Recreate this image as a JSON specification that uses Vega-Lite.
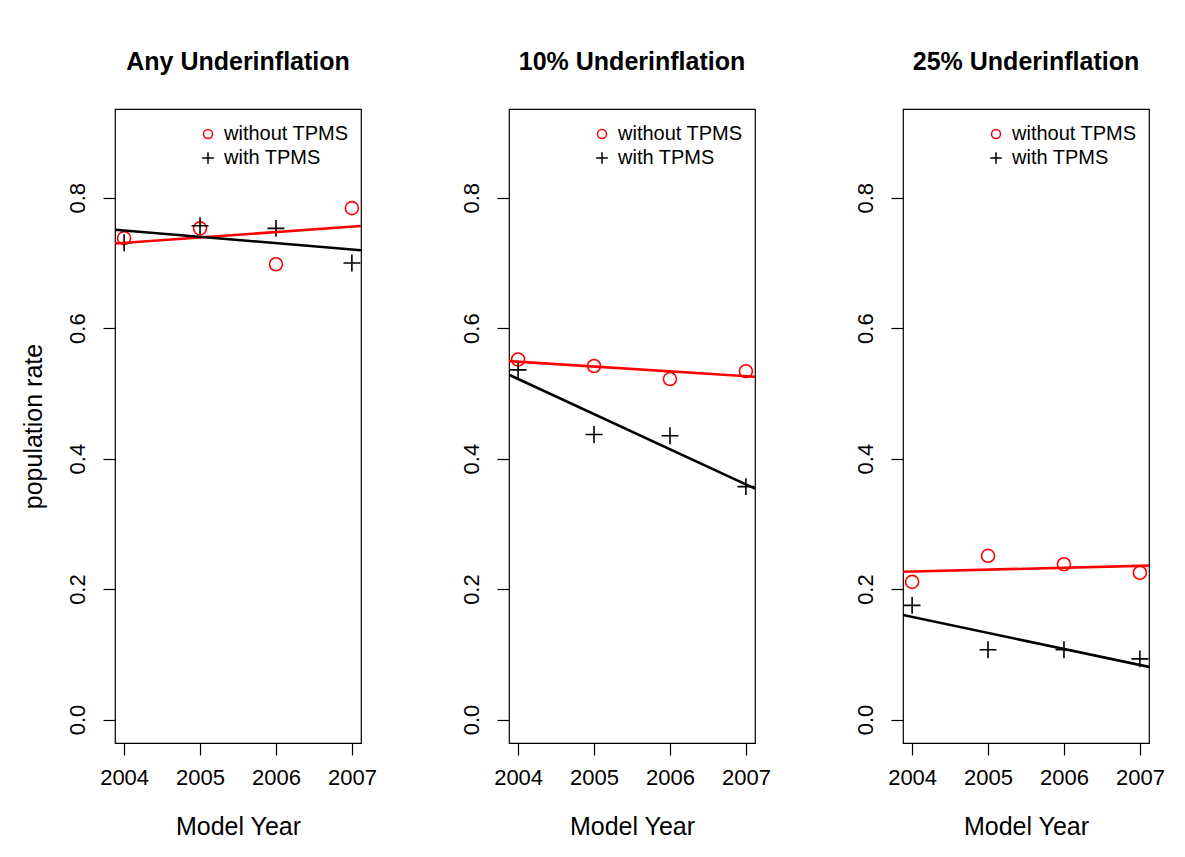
{
  "$schema": "https://vega.github.io/schema/vega-lite/v6.json",
  "background": "white",
  "padding": {"left": 20, "top": 49, "right": 10, "bottom": 10},
  "bounds": "flush",
  "spacing": 148,
  "datasets": {
    "pts": [
      {"panel": "Any", "year": 2004, "group": "without TPMS", "rate": 0.738},
      {"panel": "Any", "year": 2005, "group": "without TPMS", "rate": 0.753},
      {"panel": "Any", "year": 2006, "group": "without TPMS", "rate": 0.698},
      {"panel": "Any", "year": 2007, "group": "without TPMS", "rate": 0.784},
      {"panel": "Any", "year": 2004, "group": "with TPMS", "rate": 0.731},
      {"panel": "Any", "year": 2005, "group": "with TPMS", "rate": 0.757},
      {"panel": "Any", "year": 2006, "group": "with TPMS", "rate": 0.753},
      {"panel": "Any", "year": 2007, "group": "with TPMS", "rate": 0.700},
      {"panel": "10", "year": 2004, "group": "without TPMS", "rate": 0.552},
      {"panel": "10", "year": 2005, "group": "without TPMS", "rate": 0.542},
      {"panel": "10", "year": 2006, "group": "without TPMS", "rate": 0.522},
      {"panel": "10", "year": 2007, "group": "without TPMS", "rate": 0.534},
      {"panel": "10", "year": 2004, "group": "with TPMS", "rate": 0.536},
      {"panel": "10", "year": 2005, "group": "with TPMS", "rate": 0.437},
      {"panel": "10", "year": 2006, "group": "with TPMS", "rate": 0.435},
      {"panel": "10", "year": 2007, "group": "with TPMS", "rate": 0.357},
      {"panel": "25", "year": 2004, "group": "without TPMS", "rate": 0.211},
      {"panel": "25", "year": 2005, "group": "without TPMS", "rate": 0.251},
      {"panel": "25", "year": 2006, "group": "without TPMS", "rate": 0.238},
      {"panel": "25", "year": 2007, "group": "without TPMS", "rate": 0.225},
      {"panel": "25", "year": 2004, "group": "with TPMS", "rate": 0.175},
      {"panel": "25", "year": 2005, "group": "with TPMS", "rate": 0.107},
      {"panel": "25", "year": 2006, "group": "with TPMS", "rate": 0.107},
      {"panel": "25", "year": 2007, "group": "with TPMS", "rate": 0.093}
    ]
  },
  "data": {"name": "pts"},
  "config": {
    "font": "Liberation Sans",
    "view": {"stroke": "black", "strokeWidth": 1.2},
    "axis": {
      "grid": false, "domain": false,
      "tickColor": "black", "tickWidth": 1.2, "tickSize": 12,
      "labelColor": "black", "titleColor": "black",
      "labelFontSize": 22, "titleFontSize": 25, "titleFontWeight": "normal",
      "labelFont": "Liberation Sans", "titleFont": "Liberation Sans",
      "labelFlush": false, "labelOverlap": false
    },
    "title": {"fontSize": 25, "fontWeight": "bold", "font": "Liberation Sans", "color": "black", "offset": 34},
    "legend": {
      "orient": "none", "legendX": 83, "legendY": 15, "padding": 0,
      "labelFontSize": 20, "labelFont": "Liberation Sans", "labelColor": "black",
      "symbolSize": 81, "symbolStrokeWidth": 1.5, "labelOffset": 6, "rowPadding": 4
    }
  },
  "resolve": {
    "scale": {"color": "independent", "shape": "independent"},
    "legend": {"color": "independent", "shape": "independent"}
  },
  "hconcat": [
    {
      "width": 246, "height": 634,
      "title": "Any Underinflation",
      "transform": [{"filter": {"field": "panel", "equal": "Any"}}],
      "layer": [
        {
          "mark": {"type": "point", "filled": false, "size": 169, "strokeWidth": 1.6, "opacity": 1},
          "encoding": {
            "x": {"field": "year", "type": "quantitative", "scale": {"domain": [2003.88, 2007.12], "nice": false, "zero": false},
                  "axis": {"title": "Model Year", "values": [2004, 2005, 2006, 2007], "format": "d", "labelPadding": 12, "titlePadding": 26}},
            "y": {"field": "rate", "type": "quantitative", "scale": {"domain": [-0.036, 0.936], "nice": false, "zero": false},
                  "axis": {"title": "population rate", "values": [0, 0.2, 0.4, 0.6, 0.8], "format": ".1f", "labelAngle": -90, "labelAlign": "center", "labelBaseline": "bottom", "labelPadding": 14, "titlePadding": 20}},
            "color": {"field": "group", "type": "nominal", "scale": {"domain": ["without TPMS", "with TPMS"], "range": ["#ff0000", "#000000"]}, "title": null},
            "shape": {"field": "group", "type": "nominal", "scale": {"domain": ["without TPMS", "with TPMS"], "range": ["circle", "M-1.3,0L1.3,0M0,-1.3L0,1.3"]}, "title": null}
          }
        },
        {
          "transform": [{"regression": "rate", "on": "year", "groupby": ["group"], "extent": [2003.88, 2007.12]}],
          "mark": {"type": "line", "strokeWidth": 2.6, "clip": true},
          "encoding": {
            "x": {"field": "year", "type": "quantitative"},
            "y": {"field": "rate", "type": "quantitative"},
            "color": {"field": "group", "type": "nominal", "title": null}
          }
        }
      ]
    },
    {
      "width": 246, "height": 634,
      "title": "10% Underinflation",
      "transform": [{"filter": {"field": "panel", "equal": "10"}}],
      "layer": [
        {
          "mark": {"type": "point", "filled": false, "size": 169, "strokeWidth": 1.6, "opacity": 1},
          "encoding": {
            "x": {"field": "year", "type": "quantitative", "scale": {"domain": [2003.88, 2007.12], "nice": false, "zero": false},
                  "axis": {"title": "Model Year", "values": [2004, 2005, 2006, 2007], "format": "d", "labelPadding": 12, "titlePadding": 26}},
            "y": {"field": "rate", "type": "quantitative", "scale": {"domain": [-0.036, 0.936], "nice": false, "zero": false},
                  "axis": {"title": null, "values": [0, 0.2, 0.4, 0.6, 0.8], "format": ".1f", "labelAngle": -90, "labelAlign": "center", "labelBaseline": "bottom", "labelPadding": 14}},
            "color": {"field": "group", "type": "nominal", "scale": {"domain": ["without TPMS", "with TPMS"], "range": ["#ff0000", "#000000"]}, "title": null},
            "shape": {"field": "group", "type": "nominal", "scale": {"domain": ["without TPMS", "with TPMS"], "range": ["circle", "M-1.3,0L1.3,0M0,-1.3L0,1.3"]}, "title": null}
          }
        },
        {
          "transform": [{"regression": "rate", "on": "year", "groupby": ["group"], "extent": [2003.88, 2007.12]}],
          "mark": {"type": "line", "strokeWidth": 2.6, "clip": true},
          "encoding": {
            "x": {"field": "year", "type": "quantitative"},
            "y": {"field": "rate", "type": "quantitative"},
            "color": {"field": "group", "type": "nominal", "title": null}
          }
        }
      ]
    },
    {
      "width": 246, "height": 634,
      "title": "25% Underinflation",
      "transform": [{"filter": {"field": "panel", "equal": "25"}}],
      "layer": [
        {
          "mark": {"type": "point", "filled": false, "size": 169, "strokeWidth": 1.6, "opacity": 1},
          "encoding": {
            "x": {"field": "year", "type": "quantitative", "scale": {"domain": [2003.88, 2007.12], "nice": false, "zero": false},
                  "axis": {"title": "Model Year", "values": [2004, 2005, 2006, 2007], "format": "d", "labelPadding": 12, "titlePadding": 26}},
            "y": {"field": "rate", "type": "quantitative", "scale": {"domain": [-0.036, 0.936], "nice": false, "zero": false},
                  "axis": {"title": null, "values": [0, 0.2, 0.4, 0.6, 0.8], "format": ".1f", "labelAngle": -90, "labelAlign": "center", "labelBaseline": "bottom", "labelPadding": 14}},
            "color": {"field": "group", "type": "nominal", "scale": {"domain": ["without TPMS", "with TPMS"], "range": ["#ff0000", "#000000"]}, "title": null},
            "shape": {"field": "group", "type": "nominal", "scale": {"domain": ["without TPMS", "with TPMS"], "range": ["circle", "M-1.3,0L1.3,0M0,-1.3L0,1.3"]}, "title": null}
          }
        },
        {
          "transform": [{"regression": "rate", "on": "year", "groupby": ["group"], "extent": [2003.88, 2007.12]}],
          "mark": {"type": "line", "strokeWidth": 2.6, "clip": true},
          "encoding": {
            "x": {"field": "year", "type": "quantitative"},
            "y": {"field": "rate", "type": "quantitative"},
            "color": {"field": "group", "type": "nominal", "title": null}
          }
        }
      ]
    }
  ]
}
